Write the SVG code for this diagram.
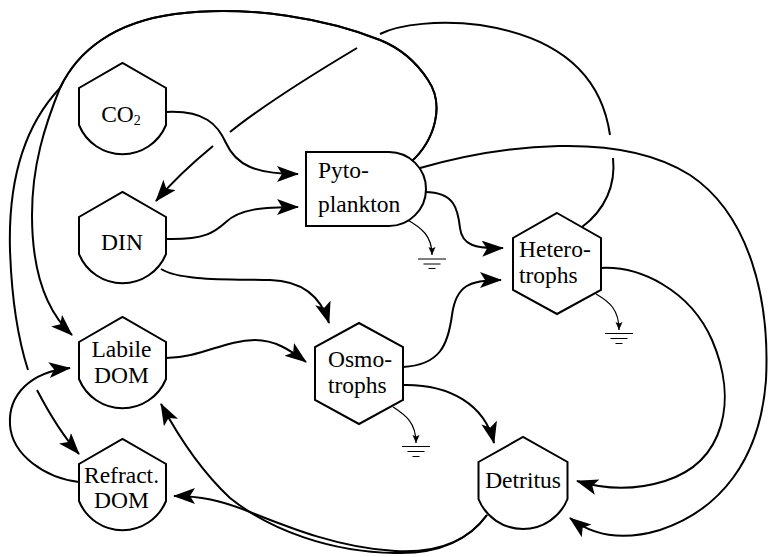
<svg xmlns="http://www.w3.org/2000/svg" width="769" height="557" viewBox="0 0 769 557">
<style>
.node{fill:#fff;stroke:#000;stroke-width:2;stroke-linejoin:miter}
.t{font-family:'Liberation Serif','Times New Roman',Times,Tinos,'DejaVu Serif','Noto Serif',serif;font-size:23.5px;fill:#000}
.c{text-anchor:middle}
.e{fill:none;stroke:#000;stroke-width:2}
.g{fill:none;stroke:#000;stroke-width:1.2}
</style>
<defs>
<marker id="arr" markerUnits="userSpaceOnUse" markerWidth="24" markerHeight="18" refX="21" refY="8" orient="auto">
<path d="M0,0 L22,8 L0,16 L5,8 Z" fill="#000"/>
</marker>
<marker id="sarr" markerUnits="userSpaceOnUse" markerWidth="10" markerHeight="8" refX="8" refY="3.5" orient="auto">
<path d="M0,0 L8,3.5 L0,7 L1.5,3.5 Z" fill="#000"/>
</marker>
</defs>
<rect width="769" height="557" fill="#fff"/>

<g id="connectors">
<!-- CO2 -> Pytoplankton -->
<path class="e" d="M166,112 C205,110 218,125 226,143 C236,165 255,174 298,174" marker-end="url(#arr)"/>
<!-- DIN -> Pytoplankton -->
<path class="e" d="M166,239 C205,240 215,232 226,222 C240,209 262,207 298,207" marker-end="url(#arr)"/>
<!-- DIN -> Osmotrophs -->
<path class="e" d="M161,269 C180,281 230,279 270,280 C305,281 322,300 329,323" marker-end="url(#arr)"/>
<!-- Labile DOM -> Osmotrophs -->
<path class="e" d="M166,358 C200,358 225,340 255,340 C275,340 290,350 306,362" marker-end="url(#arr)"/>
<!-- Pytoplankton -> Heterotrophs -->
<path class="e" d="M425,192 C455,192 458,210 460,228 C462,245 475,249 503,248" marker-end="url(#arr)"/>
<!-- Osmotrophs -> Heterotrophs -->
<path class="e" d="M403,367 C440,365 448,345 452,315 C456,285 470,280 501,280" marker-end="url(#arr)"/>
<!-- Osmotrophs -> Detritus -->
<path class="e" d="M403,385 C450,384 485,405 494,443" marker-end="url(#arr)"/>
<!-- Heterotrophs -> Detritus -->
<path class="e" d="M601,268 C640,266 690,290 712,340 C738,400 725,462 665,481 C630,492 600,488 577,481" marker-end="url(#arr)"/>
<!-- Pytoplankton -> Detritus (far right) -->
<path class="e" d="M420,168 C500,145 620,130 690,175 C750,215 770,300 766,380 C760,460 720,510 660,530 C620,542 592,535 570,518" marker-end="url(#arr)"/>
<!-- Detritus -> Labile DOM -->
<path class="e" d="M487,515 C465,545 430,554 395,553 C330,552 270,530 230,498 C200,470 175,430 161,404" marker-end="url(#arr)"/>
<!-- Detritus -> Refract. DOM -->
<path class="e" d="M487,515 C465,545 430,553 395,551 C340,548 290,528 250,512 C220,500 200,496 174,496" marker-end="url(#arr)"/>
<!-- Refract. DOM -> Labile DOM -->
<path class="e" d="M79,482 C45,478 12,455 10,425 C8,395 30,372 70,368" marker-end="url(#arr)"/>
<!-- Pytoplankton -> Labile DOM -->
<path class="e" d="M411,162 C435,140 445,105 428,80 C415,60 400,48 380,40 C330,20 250,4 175,14 C115,22 78,50 60,88 C45,125 32,165 32,215 C32,270 45,310 72,335" marker-end="url(#arr)"/>
<!-- Pytoplankton -> Refract. DOM (with gap) -->
<path class="e" d="M411,162 C435,140 445,105 428,80 C415,60 400,48 380,40 C330,20 250,4 175,14 C115,22 78,50 60,88 C25,125 8,180 10,250 C12,310 20,345 28,370"/>
<path class="e" d="M37,390 C50,415 63,436 79,454" marker-end="url(#arr)"/>
<!-- Heterotrophs -> DIN (with gaps) -->
<path class="e" d="M582,227 C605,210 616,185 613,158"/>
<path class="e" d="M610,135 C600,65 545,35 480,25 C440,20 400,24 380,34"/>
<path class="e" d="M357,48 C310,76 260,108 230,132"/>
<path class="e" d="M213,146 C190,165 172,182 156,201" marker-end="url(#arr)"/>
<!-- losses to ground -->
<path class="g" d="M406,219 C422,228 432,236 432,255" marker-end="url(#sarr)"/>
<path class="g" d="M596,294 C610,302 619,310 619,330" marker-end="url(#sarr)"/>
<path class="g" d="M393,407 C405,415 416,422 416,443" marker-end="url(#sarr)"/>
</g>

<g id="grounds" stroke="#000" stroke-width="1.2">
<path d="M418,259 H446 M423.5,264 H440.5 M428.5,268.5 H435.5"/>
<path d="M605,333.5 H633 M610.5,338.5 H627.5 M615.5,343.5 H622.5"/>
<path d="M402,446.5 H430 M407.5,451.5 H424.5 M412.5,456.5 H419.5"/>
</g>

<g id="co2">
<path class="node" d="M79,88 L122.5,63 L166,88 L166,125 A47,47 0 0 1 79,125 Z"/>
<text class="t c" x="121" y="122" font-family="Liberation Serif, serif">CO<tspan font-size="14" dy="3">2</tspan></text>
</g>
<g id="din">
<path class="node" d="M79,217 L122.5,192 L166,217 L166,254 A47,47 0 0 1 79,254 Z"/>
<text class="t c" x="122" y="250" font-family="Liberation Serif, serif">DIN</text>
</g>
<g id="labile-dom">
<path class="node" d="M79,342 L122.5,317 L166,342 L166,379 A47,47 0 0 1 79,379 Z"/>
<text class="t c" x="121.5" y="357" font-family="Liberation Serif, serif">Labile</text>
<text class="t c" x="121.5" y="383" font-family="Liberation Serif, serif">DOM</text>
</g>
<g id="refract-dom">
<path class="node" d="M79,464 L122.5,439 L166,464 L166,501 A47,47 0 0 1 79,501 Z"/>
<text class="t c" x="121.5" y="483" font-family="Liberation Serif, serif">Refract.</text>
<text class="t c" x="121.5" y="508" font-family="Liberation Serif, serif">DOM</text>
</g>
<g id="detritus">
<path class="node" d="M478.5,462 L523,437 L567.5,462 L567.5,499 A48,48 0 0 1 478.5,499 Z"/>
<text class="t c" x="523" y="488" font-family="Liberation Serif, serif">Detritus</text>
</g>
<g id="pytoplankton">
<path class="node" d="M306,152 H389 A37,37 0 0 1 389,226 H306 Z"/>
<text class="t" x="318" y="178" font-family="Liberation Serif, serif">Pyto-</text>
<text class="t" x="318" y="212" font-family="Liberation Serif, serif">plankton</text>
</g>
<g id="heterotrophs">
<path class="node" d="M557,213 L601,238 L601,290 L557,314 L513,290 L513,238 Z"/>
<text class="t" x="519" y="257" font-family="Liberation Serif, serif">Hetero-</text>
<text class="t" x="519" y="283" font-family="Liberation Serif, serif">trophs</text>
</g>
<g id="osmotrophs">
<path class="node" d="M359,323 L403,347 L403,400 L359,424 L315,400 L315,347 Z"/>
<text class="t" x="328" y="367" font-family="Liberation Serif, serif">Osmo-</text>
<text class="t" x="328" y="393" font-family="Liberation Serif, serif">trophs</text>
</g>
</svg>
